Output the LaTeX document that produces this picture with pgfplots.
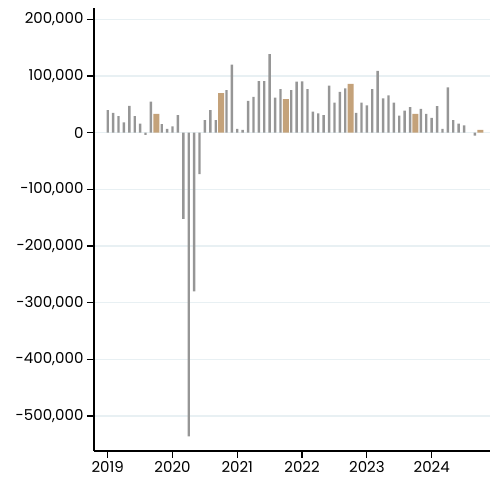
\documentclass[border=0pt]{standalone}
\usepackage{pgfplots}
\pgfplotsset{compat=1.18}
\usepackage{pgfplotstable}
\usepackage{fontspec}
\setmainfont{Poppins}
\definecolor{barg}{RGB}{150,150,150}
\definecolor{tanb}{RGB}{196,162,122}
\definecolor{gridc}{RGB}{232,240,243}
% month index from Jan 2019 = 0
\pgfplotstableread{
m v
0 40000
1 35000
2 29000
3 18000
4 47500
5 29000
6 16000
7 -4000
8 55000
10 15000
11 6500
12 11000
13 31000
14 -152000
15 -536000
16 -280000
17 -73000
18 22000
19 40000
20 22000
22 75000
23 120000
24 6500
25 5000
26 56000
27 63000
28 91000
29 91000
30 138500
31 62000
32 77000
34 75000
35 90000
36 90500
37 77000
38 37000
39 34000
40 31000
41 83000
42 53000
43 72000
44 78000
46 35000
47 53000
48 48000
49 77000
50 109000
51 60500
52 66000
53 53000
54 30000
55 39000
56 45000
58 42000
59 33000
60 26000
61 47000
62 6500
63 80000
64 22000
65 16000
66 13000
68 -5000
}\greytab
\pgfplotstableread{
m v
9 33000
21 70000
33 59000
45 86000
57 33000
69 5000
}\tantab
\begin{document}
\begin{tikzpicture}
\begin{axis}[
  anchor=south west,
  scale only axis, width=396pt, height=443pt,
  xmin=-2.54, xmax=70.8,
  ymin=-561700, ymax=220000,
  axis x line=bottom, axis y line=left,
  axis line style={-, line width=1.3pt, black},
  xtick={0,12,24,36,48,60},
  xticklabels={2019,2020,2021,2022,2023,2024},
  ytick={-500000,-400000,-300000,-200000,-100000,0,100000,200000},
  yticklabels={{-500,000},{-400,000},{-300,000},{-200,000},{-100,000},0,{100,000},{200,000}},
  scaled y ticks=false,
  tick align=outside,
  major tick length=7pt,
  every tick/.style={black, line width=1.2pt},
  ticklabel style={font=\fontsize{15}{17}\selectfont},
  ymajorgrids,
  grid style={gridc, line width=1.3pt},
]
\addplot[ybar, bar shift=0pt, bar width=2.4pt, fill=barg, draw=none] table[x=m,y=v] {\greytab};
\addplot[ybar, bar shift=0pt, bar width=6pt, fill=tanb, draw=none] table[x=m,y=v] {\tantab};
\end{axis}
\pgfresetboundingbox
\useasboundingbox (current axis.south west) ++(-94pt,-33pt) rectangle ++(491pt,484pt);
\end{tikzpicture}
\end{document}
